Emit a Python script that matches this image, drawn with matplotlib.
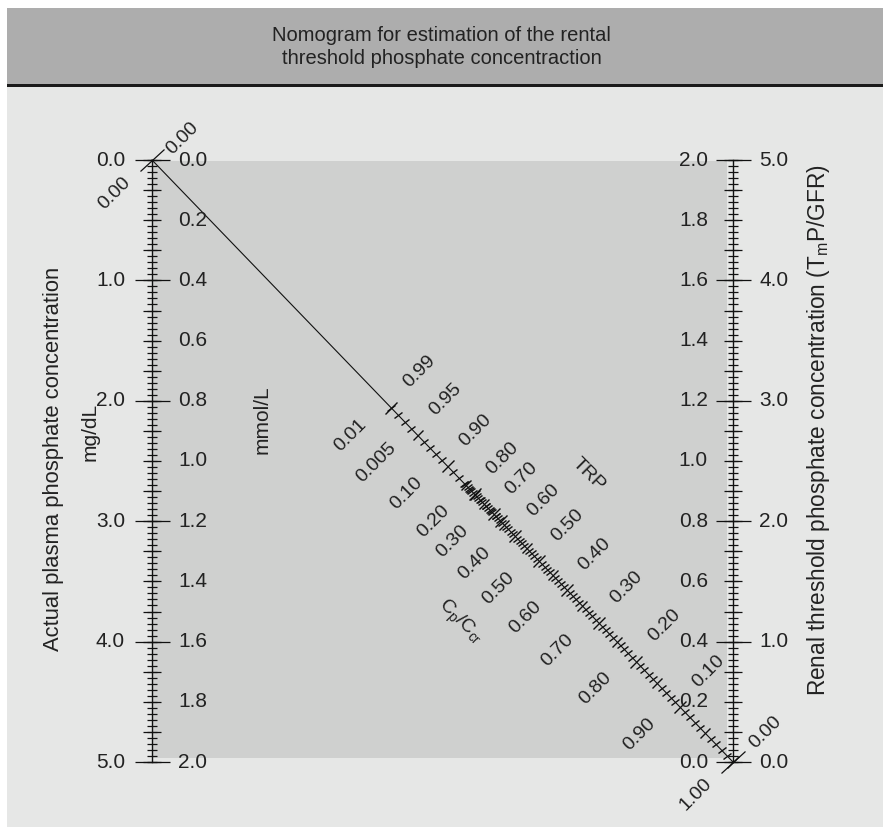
import numpy as np
import matplotlib.pyplot as plt
from matplotlib.markers import MarkerStyle
from matplotlib.transforms import Affine2D
from matplotlib.patches import Rectangle

plt.rcParams['font.family'] = ['Liberation Sans', 'DejaVu Sans']
plt.rcParams['mathtext.default'] = 'regular'

# ---------------------------------------------
# Scale values
# ---------------------------------------------
TITLE = "Nomogram for estimation of the rental\nthreshold phosphate concentraction"

# left axis: actual plasma phosphate
PLASMA_MGDL_LABELS = [0.0, 1.0, 2.0, 3.0, 4.0, 5.0]
PLASMA_MMOL_LABELS = [0.0, 0.2, 0.4, 0.6, 0.8, 1.0, 1.2, 1.4, 1.6, 1.8, 2.0]
# right axis: TmP/GFR
TMP_MMOL_LABELS = [0.0, 0.2, 0.4, 0.6, 0.8, 1.0, 1.2, 1.4, 1.6, 1.8, 2.0]
TMP_MGDL_LABELS = [0.0, 1.0, 2.0, 3.0, 4.0, 5.0]
MGDL_PER_MMOL = 2.5          # 5.0 mg/dL sits level with 2.0 mmol/L on this chart
MMOL_MAX = 2.0

# diagonal: TRP above, Cp/Ccr below (same positions)
TRP_LABELS = [0.99, 0.95, 0.90, 0.80, 0.70, 0.60, 0.50, 0.40, 0.30, 0.20, 0.10, 0.00]
CPCR_LABELS = ['0.01', '0.005', '0.10', '0.20', '0.30', '0.40', '0.50',
               '0.60', '0.70', '0.80', '0.90', '1.00']
TRP_LINEAR_MAX = 0.86        # straight TRP part of the scale
TRP_CURVED_MIN = 0.80        # curved part (overlaps the straight part)

# pixel frame of the nomogram in the 883x827 picture
W, H = 883, 827
X0, X1 = 152, 733            # left / right axis
YT, YB = 160, 762            # top / bottom of the axes

TXT = '#222222'
INK = '#111111'
FS_TICK = 15
FS_DIAG = 14
FS_UNIT = 15


def to_x(px):
    return (px - X0) / (X1 - X0)


def to_y(py):
    return (YB - py) / (YB - YT)


def trp_pos(trp, curved=False):
    alpha = 0.3 * trp / (1 - 0.8 * trp) if curved else trp
    return 1.0 / (1.0 + alpha)


def tick_ms(pixels):
    return pixels * 72.0 / 100.0


fig = plt.figure(figsize=(W / 100, H / 100), dpi=100)
fig.patch.set_facecolor('white')
ax = fig.add_axes([0, 0, 1, 1])
ax.set_xlim(to_x(0), to_x(W))
ax.set_ylim(to_y(H), to_y(0))
ax.axis('off')

# backgrounds
ax.add_patch(Rectangle((7 / W, 0), 1, 1 - 87 / H, transform=ax.transAxes,
                       facecolor='#e6e7e6', edgecolor='none', zorder=0))
ax.add_patch(Rectangle((7 / W, 1 - 84 / H), 1, 76 / H, transform=ax.transAxes,
                       facecolor='#adadad', edgecolor='none', zorder=0))
ax.add_patch(Rectangle((7 / W, 1 - 87 / H), 1, 3 / H, transform=ax.transAxes,
                       facecolor='#1a1a1a', edgecolor='none', zorder=1))
ax.text(0.5, 1 - 47 / H, TITLE, transform=ax.transAxes, ha='center', va='center',
        fontsize=14.5, color=TXT, linespacing=1.3)

# inner shaded panel
ax.add_patch(Rectangle((to_x(153), to_y(758)), to_x(727) - to_x(153),
                       to_y(161) - to_y(758), facecolor='#cfd0cf',
                       edgecolor='none', zorder=1))

# ---------------------------------------------
# vertical scales
# ---------------------------------------------
small = np.round(np.arange(0, MMOL_MAX + 0.001, 0.02), 2)
medium = np.round(np.arange(0, MMOL_MAX + 0.001, 0.1), 2)
kw = dict(ls='none', marker='_', color=INK, zorder=4)

# left axis (top = 0)
yl = lambda mmol: 1 - np.asarray(mmol) / MMOL_MAX
ax.plot([0, 0], [0, 1], color=INK, lw=1.0, zorder=4)
ax.plot(np.zeros_like(small), yl(small), ms=tick_ms(10), mew=0.9, **kw)
ax.plot(np.zeros_like(medium), yl(medium), ms=tick_ms(18), mew=0.9, **kw)
big_l = np.array(PLASMA_MGDL_LABELS) / MGDL_PER_MMOL
ax.plot(np.zeros_like(big_l), yl(big_l), ms=tick_ms(35), mew=0.9, **kw)
for v in PLASMA_MGDL_LABELS:
    ax.annotate(f'{v:.1f}', (0, yl(v / MGDL_PER_MMOL)), xytext=(-27, 0),
                textcoords='offset pixels', ha='right', va='center',
                fontsize=FS_TICK, color=TXT, zorder=5)
for v in PLASMA_MMOL_LABELS:
    ax.annotate(f'{v:.1f}', (0, yl(v)), xytext=(26, 0),
                textcoords='offset pixels', ha='left', va='center',
                fontsize=FS_TICK, color=TXT, zorder=5)

# right axis (bottom = 0)
yr = lambda mmol: np.asarray(mmol) / MMOL_MAX
ax.plot([1, 1], [0, 1], color=INK, lw=1.0, zorder=4)
ax.plot(np.ones_like(small), yr(small), ms=tick_ms(10), mew=0.9, **kw)
ax.plot(np.ones_like(medium), yr(medium), ms=tick_ms(18), mew=0.9, **kw)
big_r = np.array(TMP_MGDL_LABELS) / MGDL_PER_MMOL
ax.plot(np.ones_like(big_r), yr(big_r), ms=tick_ms(35), mew=0.9, **kw)
for v in TMP_MMOL_LABELS:
    ax.annotate(f'{v:.1f}', (1, yr(v)), xytext=(-25, 0),
                textcoords='offset pixels', ha='right', va='center',
                fontsize=FS_TICK, color=TXT, zorder=5)
for v in TMP_MGDL_LABELS:
    ax.annotate(f'{v:.1f}', (1, yr(v / MGDL_PER_MMOL)), xytext=(26, 0),
                textcoords='offset pixels', ha='left', va='center',
                fontsize=FS_TICK, color=TXT, zorder=5)

# axis titles
ax.text(to_x(54), to_y(459), 'Actual plasma phosphate concentration', rotation=90,
        ha='center', va='center', fontsize=15.8, color=TXT)
ax.text(to_x(90), to_y(432), 'mg/dL', rotation=90,
        ha='center', va='center', fontsize=FS_UNIT, color=TXT)
ax.text(to_x(262), to_y(420), 'mmol/L', rotation=90,
        ha='center', va='center', fontsize=FS_UNIT, color=TXT)
ax.text(to_x(819), to_y(430),
        r'Renal threshold phosphate concentration (T$_{m}$P/GFR)', rotation=90,
        ha='center', va='center', fontsize=16.3, color=TXT)

# ---------------------------------------------
# diagonal TRP / Cp/Ccr scale
# ---------------------------------------------
ax.plot([0, 1], [1, 0], color=INK, lw=0.8, zorder=4)

ang = np.degrees(np.arctan2(X1 - X0, YB - YT))     # perpendicular to the diagonal
perp = MarkerStyle('_', transform=Affine2D().rotate_deg(ang))

lin_vals = np.round(np.arange(0, TRP_LINEAR_MAX + 0.001, 0.01), 2)
cur_vals = np.round(np.arange(TRP_CURVED_MIN, 0.99 + 0.001, 0.01), 2)


def draw_diag_ticks(vals, curved):
    s = np.array([trp_pos(v, curved) for v in vals])
    cents = np.round(vals * 100).astype(int)
    for mask, length in [((cents % 5) != 0, 10),
                         (((cents % 5) == 0) & ((cents % 10) != 0), 13),
                         ((cents % 10) == 0, 16)]:
        ax.plot(s[mask], 1 - s[mask], ls='none', marker=perp, ms=tick_ms(length),
                mew=1.0, color=INK, zorder=4)


draw_diag_ticks(lin_vals, False)
draw_diag_ticks(cur_vals, True)
s99 = trp_pos(0.99, True)
ax.plot([s99], [1 - s99], ls='none', marker=perp, ms=tick_ms(17), mew=1.0,
        color=INK, zorder=4)
# end crosses
ax.plot([0, 1], [1, 0], ls='none', marker=perp, ms=tick_ms(33), mew=0.9,
        color=INK, zorder=4)

for trp, cp in zip(TRP_LABELS, CPCR_LABELS):
    s = trp_pos(trp, curved=trp > TRP_LINEAR_MAX)
    if trp == 0.0:
        up, dn = (33, 30), (-37, -32)
    else:
        up, dn = (28, 36), (-41, -27)
    ax.annotate(f'{trp:.2f}', (s, 1 - s), xytext=up, textcoords='offset pixels',
                ha='center', va='center', rotation=45, rotation_mode='anchor',
                fontsize=FS_DIAG, color=TXT, zorder=5)
    ax.annotate(cp, (s, 1 - s), xytext=dn, textcoords='offset pixels',
                ha='center', va='center', rotation=45, rotation_mode='anchor',
                fontsize=FS_DIAG, color=TXT, zorder=5)

# labels at the top-left end of the diagonal
ax.annotate('0.00', (0, 1), xytext=(31, 22), textcoords='offset pixels',
            ha='center', va='center', rotation=45, rotation_mode='anchor',
            fontsize=FS_DIAG, color=TXT, zorder=5)
ax.annotate('0.00', (0, 1), xytext=(-37, -33), textcoords='offset pixels',
            ha='center', va='center', rotation=45, rotation_mode='anchor',
            fontsize=FS_DIAG, color=TXT, zorder=5)

ax.text(to_x(589), to_y(475), 'TRP', rotation=-45, rotation_mode='anchor',
        ha='center', va='center', fontsize=FS_DIAG, color=TXT)
ax.text(to_x(460), to_y(622), r'C$_{p}$/C$_{cr}$', rotation=-45,
        rotation_mode='anchor', ha='center', va='center', fontsize=FS_DIAG,
        color=TXT)

fig.savefig('out.png', dpi=100)
